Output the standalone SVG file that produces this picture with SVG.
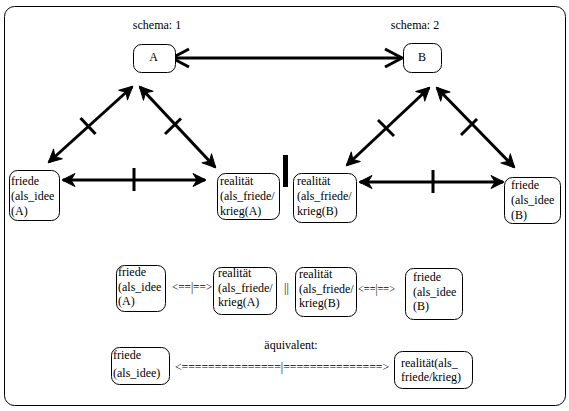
<svg xmlns="http://www.w3.org/2000/svg" width="569" height="411" viewBox="0 0 569 411" font-family="'Liberation Serif', 'Times New Roman', Times, serif">
<style>
.box{fill:#fff;stroke:#000;stroke-width:1}
text{font-family:'Liberation Serif','Times New Roman',Times,serif;font-size:12px;fill:#000}
.ln{stroke:#000;stroke-width:3;fill:none}
.tk{stroke:#000;stroke-width:3}
</style>
<defs>
<marker id="open" markerUnits="userSpaceOnUse" markerWidth="26" markerHeight="26" viewBox="-22 -13 26 26" refX="0" refY="0" orient="auto-start-reverse">
<path d="M-17,-9 L0,0 L-17,9" fill="none" stroke="#000" stroke-width="3"/>
</marker>
<marker id="fill" markerUnits="userSpaceOnUse" markerWidth="20" markerHeight="20" viewBox="-16 -10 20 20" refX="0" refY="0" orient="auto-start-reverse">
<path d="M1,0 L-12,-6.5 L-8,0 L-12,6.5 Z" fill="#000" stroke="#000" stroke-width="1" stroke-linejoin="round"/>
</marker>
</defs>
<rect x="4.5" y="6.5" width="561" height="399" rx="10" fill="#fff" stroke="#000" stroke-width="1"/>
<text x="157" y="29" text-anchor="middle">schema: 1</text>
<text x="415" y="29" text-anchor="middle">schema: 2</text>
<g id="connectors">
<line class="ln" x1="172" y1="58" x2="402" y2="58" marker-start="url(#open)" marker-end="url(#open)"/>
<line class="ln" x1="49" y1="162" x2="132" y2="87" marker-start="url(#fill)" marker-end="url(#fill)"/>
<line class="tk" x1="80.5" y1="118" x2="95.5" y2="134"/>
<line class="ln" x1="140" y1="87" x2="215" y2="167" marker-start="url(#fill)" marker-end="url(#fill)"/>
<line class="tk" x1="181" y1="118.5" x2="165" y2="134"/>
<line class="ln" x1="63" y1="180" x2="205" y2="180" marker-start="url(#fill)" marker-end="url(#fill)"/>
<line class="tk" x1="134" y1="168" x2="134" y2="191"/>
<line class="ln" x1="429" y1="88" x2="347" y2="165" marker-start="url(#fill)" marker-end="url(#fill)"/>
<line class="tk" x1="378" y1="120" x2="394" y2="136"/>
<line class="ln" x1="437" y1="88" x2="514" y2="167" marker-start="url(#fill)" marker-end="url(#fill)"/>
<line class="tk" x1="477" y1="119" x2="461" y2="135"/>
<line class="ln" x1="360" y1="182" x2="503" y2="182" marker-start="url(#fill)" marker-end="url(#fill)"/>
<line class="tk" x1="433" y1="170" x2="433" y2="193"/>
<rect x="283" y="155" width="5" height="32" fill="#000"/>
</g>
<g id="nA"><rect class="box" x="133.5" y="44.5" width="42" height="28" rx="8"/><text x="153.5" y="61" text-anchor="middle" font-size="11">A</text></g>
<g id="nB"><rect class="box" x="403.5" y="43.5" width="38" height="29" rx="8"/><text x="422" y="61" text-anchor="middle" font-size="11">B</text></g>
<g id="fA"><rect class="box" x="9.5" y="170.5" width="50" height="50" rx="8"/><text><tspan x="11" y="185">friede</tspan><tspan x="11" y="200">(als_idee</tspan><tspan x="11" y="215">(A)</tspan></text></g>
<g id="rA"><rect class="box" x="217.5" y="173.5" width="62" height="46" rx="8"/><text><tspan x="220" y="185">realität</tspan><tspan x="220" y="200">(als_friede/</tspan><tspan x="220" y="215">krieg(A)</tspan></text></g>
<g id="rB"><rect class="box" x="293.5" y="173.5" width="63" height="49" rx="8"/><text><tspan x="297" y="185">realität</tspan><tspan x="297" y="200">(als_friede/</tspan><tspan x="297" y="215">krieg(B)</tspan></text></g>
<g id="fB"><rect class="box" x="504.5" y="177.5" width="56" height="46" rx="8"/><text><tspan x="511" y="189">friede</tspan><tspan x="511" y="204">(als_idee</tspan><tspan x="511" y="219">(B)</tspan></text></g>
<g id="fA2"><rect class="box" x="116.5" y="265.5" width="49" height="46" rx="8"/><text><tspan x="118" y="276">friede</tspan><tspan x="118" y="291">(als_idee</tspan><tspan x="118" y="305">(A)</tspan></text></g>
<text x="172" y="291" font-size="10" textLength="40" lengthAdjust="spacingAndGlyphs">&lt;==|==&gt;</text>
<g id="rA2"><rect class="box" x="213.5" y="267.5" width="63" height="47" rx="8"/><text><tspan x="218" y="277">realität</tspan><tspan x="218" y="292">(als_friede/</tspan><tspan x="218" y="306">krieg(A)</tspan></text></g>
<text x="284" y="292">||</text>
<g id="rB2"><rect class="box" x="295.5" y="267.5" width="61" height="49" rx="8"/><text><tspan x="299" y="278">realität</tspan><tspan x="299" y="293">(als_friede/</tspan><tspan x="299" y="307">krieg(B)</tspan></text></g>
<text x="358" y="293" font-size="10" textLength="37" lengthAdjust="spacingAndGlyphs">&lt;==|==&gt;</text>
<g id="fB2"><rect class="box" x="405.5" y="268.5" width="57" height="51" rx="8"/><text><tspan x="413" y="281">friede</tspan><tspan x="413" y="296">(als_idee</tspan><tspan x="413" y="310">(B)</tspan></text></g>
<text x="291" y="349" text-anchor="middle">äquivalent:</text>
<g id="f3"><rect class="box" x="111.5" y="347.5" width="58" height="37" rx="8"/><text><tspan x="113" y="359">friede</tspan><tspan x="113" y="377">(als_idee)</tspan></text></g>
<text x="175" y="371" font-size="10" textLength="214" lengthAdjust="spacingAndGlyphs">&lt;===============|===============&gt;</text>
<g id="r3"><rect class="box" x="394.5" y="351.5" width="78" height="37" rx="8"/><text><tspan x="401" y="367">realität(als_</tspan><tspan x="401" y="381">friede/krieg)</tspan></text></g>
</svg>
